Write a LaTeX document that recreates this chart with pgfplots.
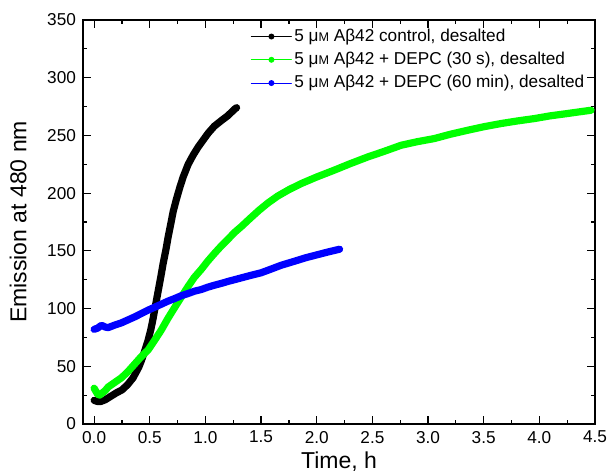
\documentclass[border=0pt]{standalone}
\usepackage{fontspec}
\setmainfont{Liberation Sans}
\usepackage{pgfplots}
\pgfplotsset{compat=1.18}
\newcommand{\uM}{μ{\fontsize{6.3}{7}\selectfont M}}
\begin{document}
\begin{tikzpicture}
\begin{axis}[
  scale only axis, width=256pt, height=202pt,
  xmin=-0.1, xmax=4.5, ymin=0, ymax=350,
  xtick={0,0.5,1,1.5,2,2.5,3,3.5,4,4.5}, minor x tick num=1,
  ytick={0,50,100,150,200,250,300,350}, minor y tick num=1,
  tick align=inside,
  major tick length=4pt, minor tick length=2.2pt,
  xticklabel={\pgfmathprintnumber[fixed,fixed zerofill,precision=1]{\tick}},
  /pgf/number format/assume math mode=true,
  tick label style={font=\fontsize{8.6}{10}\selectfont},
  label style={font=\fontsize{11.5}{13}\selectfont},
  xlabel={Time, h}, ylabel={Emission at 480 nm},
  xlabel style={yshift=2.5pt},
  ylabel style={yshift=3.5pt},
  axis line style={line width=0.7pt},
  every tick/.style={line width=0.6pt, black},
  legend style={at={(1,1)}, anchor=north east, draw=none, fill=none,
    font=\fontsize{8.6}{10}\selectfont, row sep=1.5pt, xshift=-1pt, yshift=-1pt,
    nodes={inner sep=1.2pt}},
  legend cell align=left,
  legend image code/.code={\draw[line width=0.5pt] (0pt,0pt) -- (20pt,0pt); \fill[draw=none, line width=0pt] (10pt,0pt) circle[radius=1.5pt];},
]
\addplot[black, line width=3.6pt, line join=round, line cap=round] coordinates {
(0,20.5) (0.03,19.5) (0.06,19.5) (0.1,21) (0.15,24) (0.2,27) (0.25,29.5) (0.3,34) (0.35,40) (0.4,49) (0.425,55) (0.45,62) (0.485,72.5) (0.51,82) (0.53,91.5) (0.55,102) (0.575,115) (0.6,128) (0.62,139) (0.645,151) (0.665,162) (0.69,174) (0.71,184) (0.74,195) (0.77,205) (0.8,214) (0.845,225) (0.89,233) (0.935,240) (0.98,246) (1.025,252) (1.08,258) (1.145,263) (1.2,267) (1.265,273) (1.28,274)
};
\addlegendentry{5 \uM\ Aβ42 control, desalted}
\addplot[green, line width=3.6pt, line join=round, line cap=round] coordinates {
(0,31) (0.03,26) (0.05,25) (0.1,29) (0.126,32) (0.2,37) (0.245,40) (0.3,45) (0.365,52) (0.42,58) (0.484,64) (0.54,72) (0.604,81.5) (0.66,91) (0.724,101) (0.78,109.5) (0.843,119) (0.9,127) (0.963,134) (1.02,141) (1.083,148) (1.14,154) (1.202,160) (1.262,166) (1.322,171) (1.4,178) (1.48,185) (1.562,191.5) (1.65,197.5) (1.75,203) (1.861,208.3) (2.0,214) (2.16,220) (2.3,225.5) (2.46,231.4) (2.6,236) (2.759,241.5) (2.9,244.5) (3.057,247.3) (3.2,251) (3.357,254.5) (3.5,257.5) (3.656,260.3) (3.8,262.5) (3.955,264.6) (4.1,267) (4.255,269) (4.35,270.3) (4.464,271.8)
};
\addlegendentry{5 \uM\ Aβ42 + DEPC (30 s), desalted}
\addplot[blue, line width=3.6pt, line join=round, line cap=round] coordinates {
(0,82) (0.03,83) (0.066,85.5) (0.1,84) (0.126,83.5) (0.18,85.5) (0.245,87.6) (0.3,90) (0.365,92.8) (0.42,95.5) (0.484,98.6) (0.54,101) (0.604,103.8) (0.66,106.3) (0.724,108.7) (0.78,111) (0.843,113) (0.9,115) (0.963,116.5) (1.02,118.5) (1.083,120.3) (1.15,122) (1.202,123.5) (1.3,126) (1.397,128.5) (1.5,131) (1.562,133.2) (1.68,137.5) (1.8,141) (1.9,144) (2.0,146.5) (2.1,149) (2.205,151.4)
};
\addlegendentry{5 \uM\ Aβ42 + DEPC (60 min), desalted}
\end{axis}
\pgfresetboundingbox
\path (current axis.south west) ++(-41.5pt,-24.5pt) rectangle ([shift={(6.5pt,10pt)}]current axis.north east);
\end{tikzpicture}
\end{document}
